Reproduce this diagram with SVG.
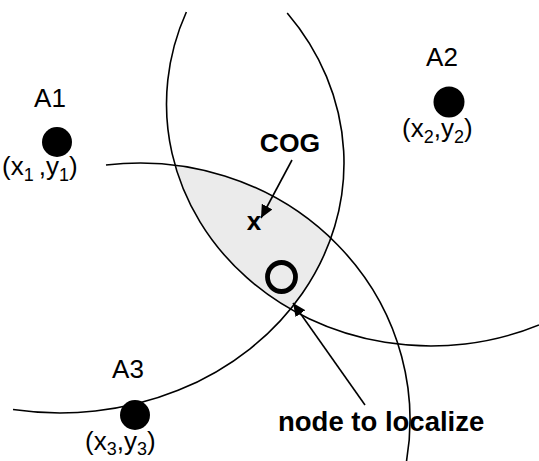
<svg xmlns="http://www.w3.org/2000/svg" width="539" height="461" viewBox="0 0 539 461">
<defs>
<style>
text{font-family:"Liberation Sans",Arial,sans-serif;fill:#000}
.lbl{font-size:26px}
.sub{font-size:18px}
.b{font-weight:bold}
.arc{fill:none;stroke:#000;stroke-width:1.6}
.con{fill:none;stroke:#000;stroke-width:1.6}
</style>
<marker id="ah" viewBox="0 0 13 12" refX="13" refY="6" markerWidth="13" markerHeight="12" markerUnits="userSpaceOnUse" orient="auto">
<path d="M0,0 L13,6 L0,12 Z" fill="#000"/>
</marker>
</defs>
<rect width="539" height="461" fill="#fff"/>
<g id="region">
<path d="M175.1,165.2 A270,257 0 0 1 330.8,238.3 A284,250 0 0 1 290.5,309 A264.5,242 0 0 1 175.1,165.2 Z" fill="#ebebeb"/>
</g>
<g id="arcs">
<path class="arc" d="M186.36,12 A264.5,242 0 0 0 539,324.91"/>
<path class="arc" d="M287.2,13 A284,250 0 0 1 13,409.55"/>
<path class="arc" d="M106,165.05 A270,257 0 0 1 404.84,470"/>
</g>
<g id="A1">
<circle cx="57" cy="142" r="15" fill="#000"/>
<text class="lbl" x="50" y="107" text-anchor="middle">A1</text>
<text class="lbl" x="2" y="175">(x<tspan class="sub" dy="6">1</tspan><tspan dx="5" dy="-6">,y</tspan><tspan class="sub" dy="6">1</tspan><tspan dy="-6">)</tspan></text>
</g>
<g id="A2">
<circle cx="449" cy="102" r="15.5" fill="#000"/>
<text class="lbl" x="442" y="66" text-anchor="middle">A2</text>
<text class="lbl" x="402" y="137">(x<tspan class="sub" dy="6">2</tspan><tspan dy="-6">,y</tspan><tspan class="sub" dy="6">2</tspan><tspan dy="-6">)</tspan></text>
</g>
<g id="A3">
<circle cx="135" cy="415" r="15" fill="#000"/>
<text class="lbl" x="128" y="378" text-anchor="middle">A3</text>
<text class="lbl" x="85" y="450">(x<tspan class="sub" dy="5">3</tspan><tspan dy="-5">,y</tspan><tspan class="sub" dy="5">3</tspan><tspan dy="-5">)</tspan></text>
</g>
<g id="COG">
<text class="lbl b" x="290" y="152" text-anchor="middle" style="font-size:26.5px">COG</text>
<text class="lbl b" x="254" y="230" text-anchor="middle">x</text>
</g>
<g id="node">
<ellipse cx="281.5" cy="277" rx="14" ry="14.5" fill="none" stroke="#000" stroke-width="4.8"/>
<text class="lbl b" x="278" y="431" style="font-size:27.5px">node to localize</text>
</g>
<g id="connectors">
<line class="con" x1="292" y1="160" x2="261" y2="218" marker-end="url(#ah)"/>
<line class="con" x1="365" y1="405" x2="293" y2="303" marker-end="url(#ah)"/>
</g>
</svg>
